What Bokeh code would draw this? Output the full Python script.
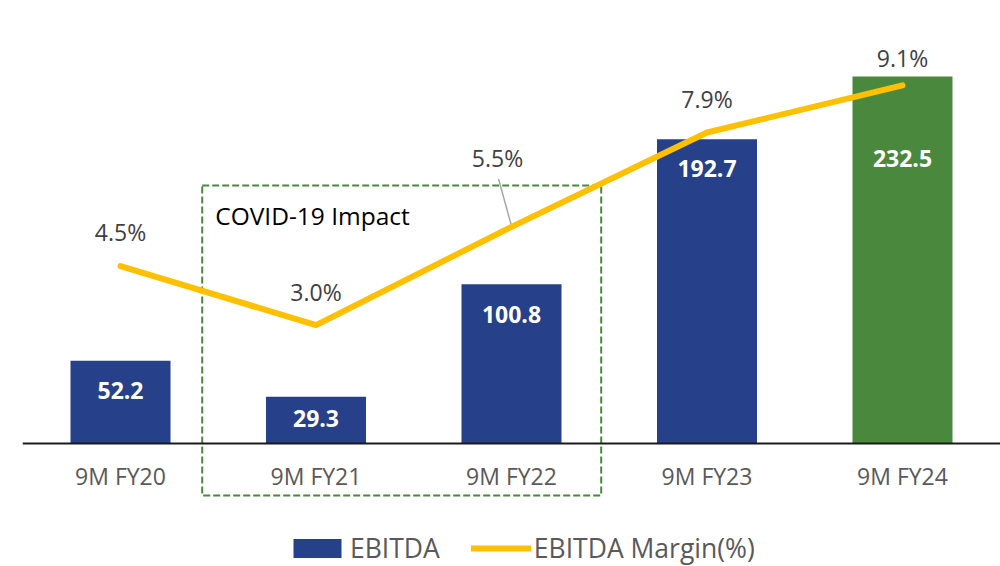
from bokeh.plotting import figure
from bokeh.models import ColumnDataSource, Range1d, FixedTicker, Legend, LegendItem
from bokeh.core.properties import value
from bokeh.embed import file_html
from bokeh.resources import INLINE

# ---------------- data ----------------
categories = ["9M FY20", "9M FY21", "9M FY22", "9M FY23", "9M FY24"]
ebitda = [52.2, 29.3, 100.8, 192.7, 232.5]
margin = [4.5, 3.0, 5.5, 7.9, 9.1]
box_label = "COVID-19 Impact"

# ---------------- styles ----------------
NAVY = "#26418A"
GREEN = "#4A893D"
YELLOW = "#FFC000"
FONT = "Open Sans"
bar_colors = [NAVY, NAVY, NAVY, NAVY, GREEN]

W, H = 1000, 566
LEFT = 22
FRAME_W = W - LEFT
FRAME_H = H
CAT_PX = 195.5          # pixels per category
FIRST_CENTER_PX = 98.0  # first category centre from frame left
BASE_PX = 442.5         # zero line from frame top
PX_PER_UNIT = 1.576     # EBITDA scale
PX_PER_PCT = 39.3       # margin scale

x_start = -FIRST_CENTER_PX / CAT_PX
x_end = (FRAME_W - FIRST_CENTER_PX) / CAT_PX
y_start = -(FRAME_H - BASE_PX) / PX_PER_UNIT
y_end = BASE_PX / PX_PER_UNIT
pct_start = -(FRAME_H - BASE_PX) / PX_PER_PCT
pct_end = BASE_PX / PX_PER_PCT

idx = list(range(len(categories)))

# label offsets (screen px; positive = down)
pct_dx = [0, 0, -14, 0, 0]
pct_dy = [-34, -33, -69, -34, -27]
bar_dy = [30, 22, 30, 29, 82]

src = ColumnDataSource(dict(
    x=idx,
    cat=categories,
    ebitda=ebitda,
    margin=margin,
    color=bar_colors,
    bar_txt=[f"{v:.1f}" for v in ebitda],
    pct_txt=[f"{v:.1f}%" for v in margin],
    pct_dx=pct_dx,
    pct_dy=pct_dy,
    bar_dy=bar_dy,
))

p = figure(width=W, height=H, output_backend="svg", toolbar_location=None,
           x_range=Range1d(x_start, x_end), y_range=Range1d(y_start, y_end),
           y_axis_location=None, min_border_left=LEFT, min_border_right=0,
           min_border_top=0, min_border_bottom=0)
p.extra_y_ranges = {"pct": Range1d(pct_start, pct_end)}
p.outline_line_color = None
p.xgrid.visible = False
p.ygrid.visible = False
p.background_fill_color = "white"
p.border_fill_color = "white"

# bars
bars = p.vbar(x="x", top="ebitda", bottom=0, width=100 / CAT_PX, fill_color="color",
              line_color=None, source=src)

# COVID box (data units of category axis and EBITDA axis)
box_left = (201.7 - LEFT - FIRST_CENTER_PX) / CAT_PX
box_right = (600.7 - LEFT - FIRST_CENTER_PX) / CAT_PX
box_top = (BASE_PX - 185) / PX_PER_UNIT
box_bottom = (BASE_PX - 495) / PX_PER_UNIT
p.quad(left=[box_left], right=[box_right], top=[box_top], bottom=[box_bottom],
       fill_alpha=0, line_color=GREEN, line_width=2, line_dash="7 3")
p.text(x=[box_left], y=[box_top], text=[box_label], x_offset=13, y_offset=30,
       text_align="left", text_baseline="middle", text_color="#000000",
       text_font=value(FONT), text_font_size="24.5px")

# leader line for the moved 5.5% label
p.segment(x0=[idx[2] - 13 / CAT_PX], y0=[margin[2] + 48 / PX_PER_PCT],
          x1=[idx[2]], y1=[margin[2] + 1 / PX_PER_PCT],
          line_color="#A6A6A6", line_width=1.5, y_range_name="pct")

# margin line
line = p.line(x="x", y="margin", source=src, y_range_name="pct", line_color=YELLOW,
              line_width=6, line_cap="round", line_join="round")

# labels
p.text(x="x", y="margin", text="pct_txt", source=src, y_range_name="pct",
       x_offset="pct_dx", y_offset="pct_dy", text_align="center", text_baseline="middle",
       text_color="#404040", text_font=value(FONT), text_font_size="23px")
p.text(x="x", y="ebitda", text="bar_txt", source=src, y_offset="bar_dy",
       text_align="center", text_baseline="middle", text_color="white",
       text_font=value(FONT), text_font_size="23px", text_font_style="bold")

# x axis at zero
ax = p.xaxis[0]
ax.fixed_location = 0
ax.ticker = FixedTicker(ticks=idx)
ax.major_label_overrides = {i: c for i, c in zip(idx, categories)}
ax.axis_line_color = "#1A1A1A"
ax.axis_line_width = 2
ax.major_tick_line_color = None
ax.minor_tick_line_color = None
ax.major_tick_out = 0
ax.major_tick_in = 0
ax.major_label_standoff = 17
ax.major_label_text_font = FONT
ax.major_label_text_font_size = "23px"
ax.major_label_text_color = "#595959"

legend = Legend(items=[LegendItem(label="EBITDA", renderers=[bars], index=0),
                       LegendItem(label="EBITDA Margin(%)", renderers=[line])],
                location=(265, 0), orientation="horizontal",
                glyph_width=60, glyph_height=24, label_standoff=3, spacing=31,
                padding=0, margin=0, border_line_color=None, background_fill_alpha=0,
                label_text_font=FONT, label_text_font_size="26.5px",
                label_text_color="#595959")
p.add_layout(legend)

open("out.html", "w").write(file_html(p, INLINE))
